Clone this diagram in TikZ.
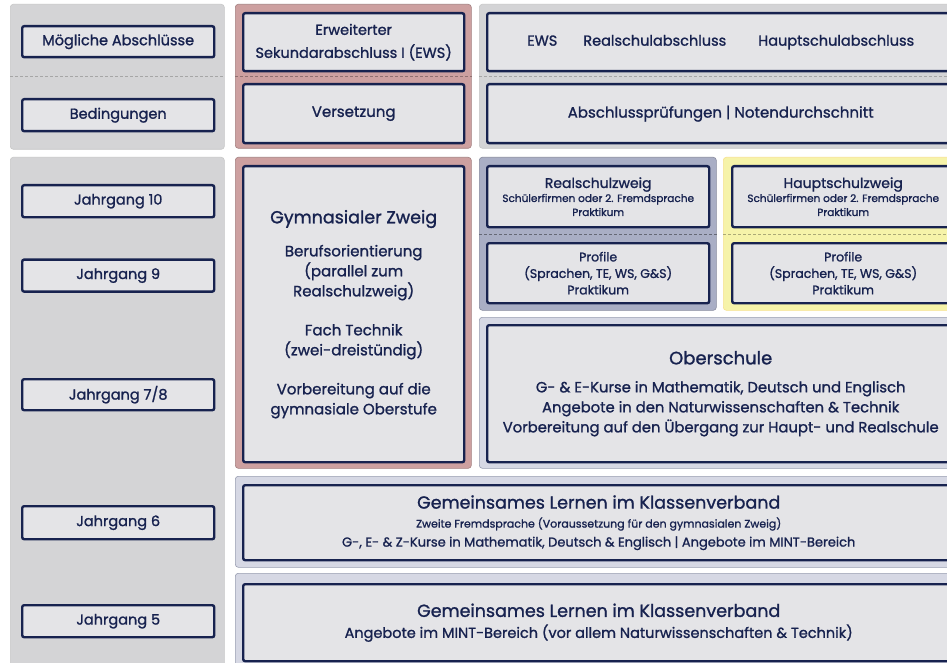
\documentclass[tikz,border=0pt]{standalone}
\usepackage{fontspec}
\setmainfont[FakeBold=1.2]{Poppins}
\usetikzlibrary{positioning}
\definecolor{navy}{HTML}{17224F}
\definecolor{cellfill}{HTML}{E4E4E7}
\definecolor{panelgray}{HTML}{D4D4D6}
\definecolor{panelred}{HTML}{CDA0A0}
\definecolor{panelblue}{HTML}{A9AEC5}
\definecolor{panelyellow}{HTML}{F6F3A9}
\definecolor{panellight}{HTML}{D6D8E4}

\begin{document}
\begin{tikzpicture}[x=1pt, y=-1pt,
    panel/.style={anchor=north west, rounded corners=3pt, inner sep=0pt, line width=0.6pt},
    graypanel/.style={panel, fill=panelgray, draw=black!22},
    redpanel/.style={panel, fill=panelred, draw=panelred!80!black},
    bluepanel/.style={panel, fill=panelblue, draw=panelblue!80!black},
    yellowpanel/.style={panel, fill=panelyellow, draw=panelyellow!85!orange},
    lightpanel/.style={panel, fill=panellight, draw=panelblue!90!black},
    cell/.style={anchor=north west, draw=navy, fill=cellfill, line width=2.4pt, rounded corners=2pt, align=center, text=navy, inner sep=1pt},
    boxsize/.style 2 args={minimum width=#1pt, minimum height=#2pt},
    gradebox/.style={cell, boxsize={192}{31}, font=\fontsize{14.5}{16}\selectfont},
    sepline/.style={densely dashed, line width=0.5pt}
]
\useasboundingbox (0,0) rectangle (947,663);
\clip (0,0) rectangle (947,663);
\fill[white] (0,0) rectangle (947,663);

\node[graypanel, boxsize={214}{145}] (lefttop) at (10,4) {};
\node[graypanel, boxsize={214}{530}] (leftlow) at (10,157) {};
\node[redpanel, boxsize={236}{144}] (redtop) at (235,4) {};
\node[graypanel, boxsize={482}{144}] (righttop) at (479,4) {};
\node[redpanel, boxsize={236}{311}] (redgym) at (235,157) {};
\node[bluepanel, boxsize={237}{153}] (realpanel) at (479,157) {};
\node[yellowpanel, boxsize={238}{153}] (hauptpanel) at (723,157) {};
\node[lightpanel, boxsize={482}{151}] (oberpanel) at (479,317) {};
\node[lightpanel, boxsize={726}{91}] (gemsechs) at (235,476) {};
\node[lightpanel, boxsize={726}{110}] (gemfuenf) at (235,573) {};

\draw[sepline, black!35] (lefttop.west |- 0,76) -- (lefttop.east |- 0,76);
\draw[sepline, panelred!70!black] (redtop.west |- 0,76) -- (redtop.east |- 0,76);
\draw[sepline, black!35] (righttop.west |- 0,76) -- (righttop.east |- 0,76);
\draw[sepline, panelblue!60!black] (realpanel.west |- 0,234) -- (realpanel.east |- 0,234);
\draw[sepline, panelyellow!70!black] (hauptpanel.west |- 0,234) -- (hauptpanel.east |- 0,234);

\node[gradebox] (abschl) at (21,25) {Mögliche Abschlüsse};
\node[gradebox, boxsize={192}{32}] (beding) at (21,98) {Bedingungen};
\node[gradebox, boxsize={192}{32}] (jg10) at (21,184) {Jahrgang 10};
\node[gradebox, boxsize={192}{32}, below=40pt of jg10.south west, anchor=north west] (jg9) {Jahrgang 9};
\node[gradebox] (jg78) at (21,378) {Jahrgang 7/8};
\node[gradebox, boxsize={192}{33}] (jg6) at (21,505) {Jahrgang 6};
\node[gradebox, boxsize={192}{32}] (jg5) at (21,604) {Jahrgang 5};

\node[cell, boxsize={221}{58}, font=\fontsize{14.5}{23}\selectfont] (ews) at (242,12) {Erweiterter\\Sekundarabschluss I (EWS)};
\node[cell, boxsize={221}{59}, font=\fontsize{15}{16}\selectfont] (versetz) at (242,83) {Versetzung};
\node[cell, boxsize={467}{58}, font=\fontsize{14.5}{16}\selectfont] (abschluesse) at (486,12) {EWS\hspace{26pt}Realschulabschluss\hspace{32pt}Hauptschulabschluss};
\node[cell, boxsize={467}{59}, font=\fontsize{15}{16}\selectfont] (pruef) at (486,83) {Abschlussprüfungen | Notendurchschnitt};

\node[cell, boxsize={221}{296}, font=\fontsize{15}{20}\selectfont] (gym) at (242,165)
    {{\fontsize{17.5}{20}\selectfont Gymnasialer Zweig}\\[13pt]
     Berufsorientierung\\(parallel zum\\Realschulzweig)\\[19pt]
     Fach Technik\\(zwei-dreistündig)\\[19pt]
     Vorbereitung auf die\\gymnasiale Oberstufe};

\node[cell, boxsize={222}{61}, font=\fontsize{10.5}{14}\selectfont] (realzweig) at (486,165)
    {{\fontsize{14}{16}\selectfont Realschulzweig}\\Schülerfirmen oder 2. Fremdsprache\\Praktikum};
\node[cell, boxsize={222}{60}, font=\fontsize{12.5}{16.5}\selectfont] (realprofil) at (486,242)
    {Profile\\(Sprachen, TE, WS, G\&S)\\Praktikum};
\node[cell, boxsize={222}{61}, font=\fontsize{10.5}{14}\selectfont] (hauptzweig) at (731,165)
    {{\fontsize{14}{16}\selectfont Hauptschulzweig}\\Schülerfirmen oder 2. Fremdsprache\\Praktikum};
\node[cell, boxsize={222}{60}, font=\fontsize{12.5}{16.5}\selectfont] (hauptprofil) at (731,242)
    {Profile\\(Sprachen, TE, WS, G\&S)\\Praktikum};

\node[cell, boxsize={467}{137}, font=\fontsize{14.8}{20}\selectfont] (ober) at (486,324)
    {{\fontsize{18}{20}\selectfont Oberschule}\\[8pt]
     G- \& E-Kurse in Mathematik, Deutsch und Englisch\\
     Angebote in den Naturwissenschaften \& Technik\\
     Vorbereitung auf den Übergang zur Haupt- und Realschule};

\node[cell, boxsize={711}{75}, font=\fontsize{11}{19}\selectfont] (gemlernsechs) at (242,484)
    {{\fontsize{17.5}{20}\selectfont Gemeinsames Lernen im Klassenverband}\\
     Zweite Fremdsprache (Voraussetzung für den gymnasialen Zweig)\\
     {\fontsize{13}{19}\selectfont G-, E- \& Z-Kurse in Mathematik, Deutsch \& Englisch | Angebote im MINT-Bereich}};
\node[cell, boxsize={711}{77}, font=\fontsize{14.5}{21}\selectfont] (gemlernfuenf) at (242,583)
    {{\fontsize{17.5}{20}\selectfont Gemeinsames Lernen im Klassenverband}\\
     Angebote im MINT-Bereich (vor allem Naturwissenschaften \& Technik)};
\end{tikzpicture}
\end{document}
